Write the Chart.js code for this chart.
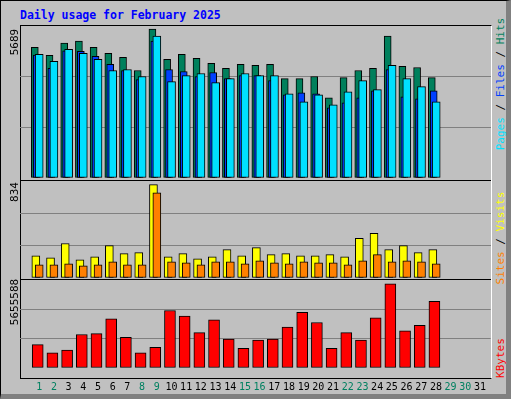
<!DOCTYPE html>
<html lang="en">
<head>
<meta charset="UTF-8">
<title>Daily usage for February 2025</title>
<script src="https://cdn.jsdelivr.net/npm/chart.js"></script>
<style>
  html, body { margin: 0; padding: 0; }
  body { width: 512px; height: 400px; background: #fff; }
  #frame { position: absolute; left: 0; top: 0; width: 505px; height: 393px; background: #c0c0c0;
           border: 1px solid #000; border-right: 5px solid #808080; border-bottom: 5px solid #808080; }
  #title { position: absolute; left: 20px; top: 8px; font: bold 11.5px "DejaVu Sans Mono", monospace; color: #0000ff; }
  .wrap { position: absolute; left: 20px; width: 471px; }
  .rot { position: absolute; transform: translate(-50%, -50%) rotate(-90deg); white-space: nowrap;
         font: 11px "DejaVu Sans Mono", monospace; }
  #panels { position: absolute; left: 20px; top: 25px; width: 470px; height: 352px;
            border: 1px solid #000; border-right: 1px solid #fff; }
</style>
</head>
<body>
<div id="frame"></div>
<div id="title">Daily usage for February 2025</div>
<div id="panels"></div>
<div class="wrap" style="top:26px;height:152px"><canvas id="c1"></canvas></div>
<div class="wrap" style="top:180px;height:97px;border-top:1px solid #000"><canvas id="c2"></canvas></div>
<div class="wrap" style="top:279px;height:118px;border-top:1px solid #000"><canvas id="c3"></canvas></div>

<div class="rot" style="left:14px;top:42px">5689</div>
<div class="rot" style="left:14px;top:192px">834</div>
<div class="rot" style="left:14px;top:302px">5655588</div>
<div class="rot" style="left:500px;top:84px"><span style="color:#00e0ff">Pages</span> / <span style="color:#0040ff">Files</span> / <span style="color:#00805c">Hits</span></div>
<div class="rot" style="left:500px;top:238px"><span style="color:#ff8000">Sites</span> / <span style="color:#ffff00">Visits</span></div>
<div class="rot" style="left:500px;top:358px;color:#ff0000">KBytes</div>

<script>
// 일별 데이터 (2025년 2월)
const days = [1,2,3,4,5,6,7,8,9,10,11,12,13,14,15,16,17,18,19,20,21,22,23,24,25,26,27,28];
const dayLabels = ['1','2','3','4','5','6','7','8','9','10','11','12','13','14','15','16','17','18','19','20','21','22','23','24','25','26','27','28','29','30','31'];
const weekendDays = [1,2,8,9,15,16,22,23,29,30];
const hits = [4994,4685,5148,5225,4994,4762,4608,4106,5689,4530,4723,4569,4376,4183,4337,4299,4337,3797,3797,3874,3063,3835,4106,4183,5418,4260,4221,3835];
const files = [4698,4183,4852,4839,4646,4337,4106,3758,5225,4144,4067,3874,4028,3797,3912,3912,3719,3179,3256,3218,2677,2870,3063,3333,4144,3102,3024,3333];
const pages = [4723,4453,4916,4762,4530,4106,4144,3874,5418,3681,3912,3990,3642,3797,3990,3912,3912,3218,2909,3179,2793,3295,3719,3372,4299,3797,3488,2909];
const visits = [199,181,308,163,190,290,218,227,834,190,218,172,190,254,199,272,209,218,199,199,209,190,354,399,254,290,227,254];
const sites = [118,118,127,109,118,145,118,118,762,145,136,118,145,145,127,154,136,127,145,136,136,118,154,209,145,154,145,127];
const kbytes = [1568716,1011409,1197178,2249869,2311792,3302560,2064100,1011409,1382947,3859867,3488329,2373715,3240637,1940254,1321024,1878331,1940254,2745253,3736021,3054868,1321024,2373715,1878331,3364483,5655588,2497561,2869099,4479097];

function series(values, shift) {
  return values.map((v, i) => ({ x: days[i] + shift, y: v }));
}
function bar(label, values, shift, color, width, order) {
  return { label, data: series(values, shift), backgroundColor: color, borderColor: '#000', order,
           borderWidth: 1, borderSkipped: false, barThickness: width, grouped: false };
}
function panel(id, datasets, yMax, showDays) {
  new Chart(document.getElementById(id), {
    type: 'bar',
    data: { datasets },
    options: {
      responsive: true, maintainAspectRatio: false, animation: false,
      layout: { padding: 0 },
      plugins: { legend: { display: false }, tooltip: { enabled: false } },
      scales: {
        x: {
          type: 'linear', min: 0.21, max: 31.21, display: showDays,
          grid: { display: false }, border: { display: false },
          afterBuildTicks: s => { s.ticks = dayLabels.map((t, i) => ({ value: i + 1 })); },
          ticks: {
            autoSkip: false, maxRotation: 0, padding: 5,
            font: { family: 'DejaVu Sans Mono', size: 10 },
            color: c => weekendDays.includes(Math.round(c.tick.value)) ? '#008060' : '#000',
            callback: (v, i) => dayLabels[i]
          }
        },
        y: {
          min: 0, max: yMax, display: true,
          afterBuildTicks: s => { s.ticks = [0, yMax / 3, yMax * 2 / 3, yMax].map(v => ({ value: v })); },
          ticks: { display: false }, border: { display: false },
          grid: { drawTicks: false, color: c => (c.index === 1 || c.index === 2) ? '#808080' : 'rgba(0,0,0,0)' }
        }
      }
    }
  });
}

panel('c1', [
  bar('Hits', hits, -0.3, '#00805c', 7, 3),
  bar('Files', files, -0.17, '#0040ff', 7, 2),
  bar('Pages', pages, 0, '#00e0ff', 8, 1)
], 5804, false);

panel('c2', [
  bar('Visits', visits, -0.23, '#ffff00', 8, 2),
  bar('Sites', sites, 0, '#ff8000', 8, 1)
], 867, false);

panel('c3', [
  bar('KBytes', kbytes, -0.1, '#ff0000', 11, 1)
], 5909000, true);
</script>
</body>
</html>
